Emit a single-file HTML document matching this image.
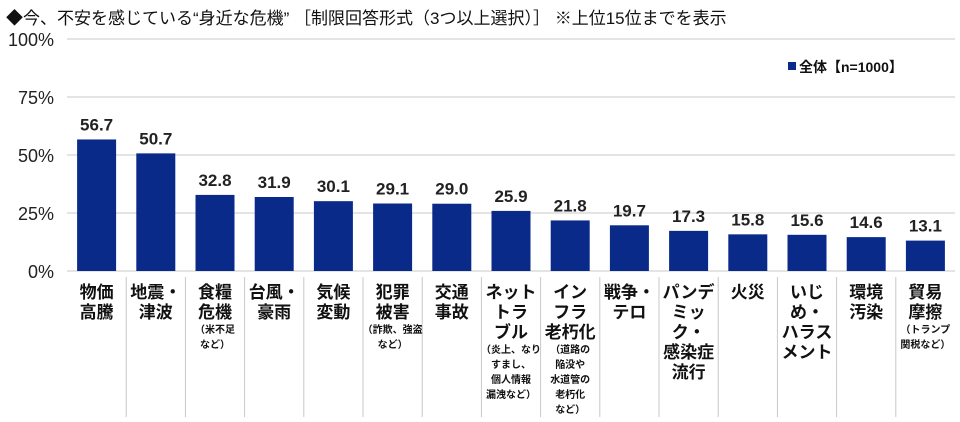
<!DOCTYPE html>
<html><head><meta charset="utf-8"><style>
body{margin:0;background:#fff;}
svg text{font-family:"Liberation Sans","Noto Sans CJK JP",sans-serif;}
</style></head><body>
<svg width="960" height="417" viewBox="0 0 960 417" xmlns="http://www.w3.org/2000/svg">
<text x="6" y="24" font-size="17" fill="#111">◆今、不安を感じている“身近な危機” ［制限回答形式（3つ以上選択）］ ※上位15位までを表示</text>
<g stroke="#c8c8c8" stroke-width="1">
<line x1="67" y1="39" x2="955" y2="39"/><line x1="67" y1="97" x2="955" y2="97"/>
<line x1="67" y1="155" x2="955" y2="155"/><line x1="67" y1="213" x2="955" y2="213"/>
<line x1="67" y1="271" x2="955" y2="271"/>
</g>
<g font-size="18" fill="#222" text-anchor="end">
<text x="54" y="46">100%</text><text x="54" y="104">75%</text><text x="54" y="162">50%</text><text x="54" y="220">25%</text><text x="54" y="278">0%</text>
</g>
<rect x="788" y="62" width="8" height="8" fill="#0a2a8a"/>
<text x="799" y="72" font-size="14" font-weight="bold" fill="#111">全体【n=1000】</text>
<g id="bars" fill="#0a2a8a"></g>
<g id="vals" font-size="17" font-weight="bold" fill="#222" text-anchor="middle"></g>
<g id="seps" stroke="#c8c8c8"></g>
<g id="labs" fill="#111" font-weight="bold" text-anchor="middle"></g>
<script>
var v=[56.7,50.7,32.8,31.9,30.1,29.1,29.0,25.9,21.8,19.7,17.3,15.8,15.6,14.6,13.1];
var L=[[["物価","高騰"],[]],[["地震・","津波"],[]],[["食糧","危機"],["（米不足","など）"]],[["台風・","豪雨"],[]],[["気候","変動"],[]],[["犯罪","被害"],["（詐欺、強盗","など）"]],[["交通","事故"],[]],[["ネット","トラ","ブル"],["（炎上、なり","すまし、","個人情報","漏洩など）"]],[["イン","フラ","老朽化"],["（道路の","陥没や","水道管の","老朽化","など）"]],[["戦争・","テロ"],[]],[["パンデ","ミッ","ク・","感染症","流行"],[]],[["火災"],[]],[["いじ","め・","ハラス","メント"],[]],[["環境","汚染"],[]],[["貿易","摩擦"],["（トランプ","関税など）"]]];
var ns="http://www.w3.org/2000/svg";
function el(p,t,a,txt){var e=document.createElementNS(ns,t);for(var k in a)e.setAttribute(k,a[k]);if(txt)e.textContent=txt;document.getElementById(p).appendChild(e);}
var w=59.2;
for(var i=0;i<15;i++){
 var cx=67+w*i+w/2,h=v[i]*2.32;
 el("bars","rect",{x:cx-19.5,y:271-h,width:39,height:h});
 el("vals","text",{x:cx,y:271-h-9},v[i].toFixed(1));
 if(i>0)el("seps","line",{x1:67+w*i,y1:277,x2:67+w*i,y2:417});
 var y=298;
 L[i][0].forEach(function(s){el("labs","text",{x:cx,y:y,"font-size":17},s);y+=20;});
 y-=5;
 L[i][1].forEach(function(s){el("labs","text",{x:cx,y:y,"font-size":10},s);y+=15;});
}
</script>
</svg>
</body></html>
